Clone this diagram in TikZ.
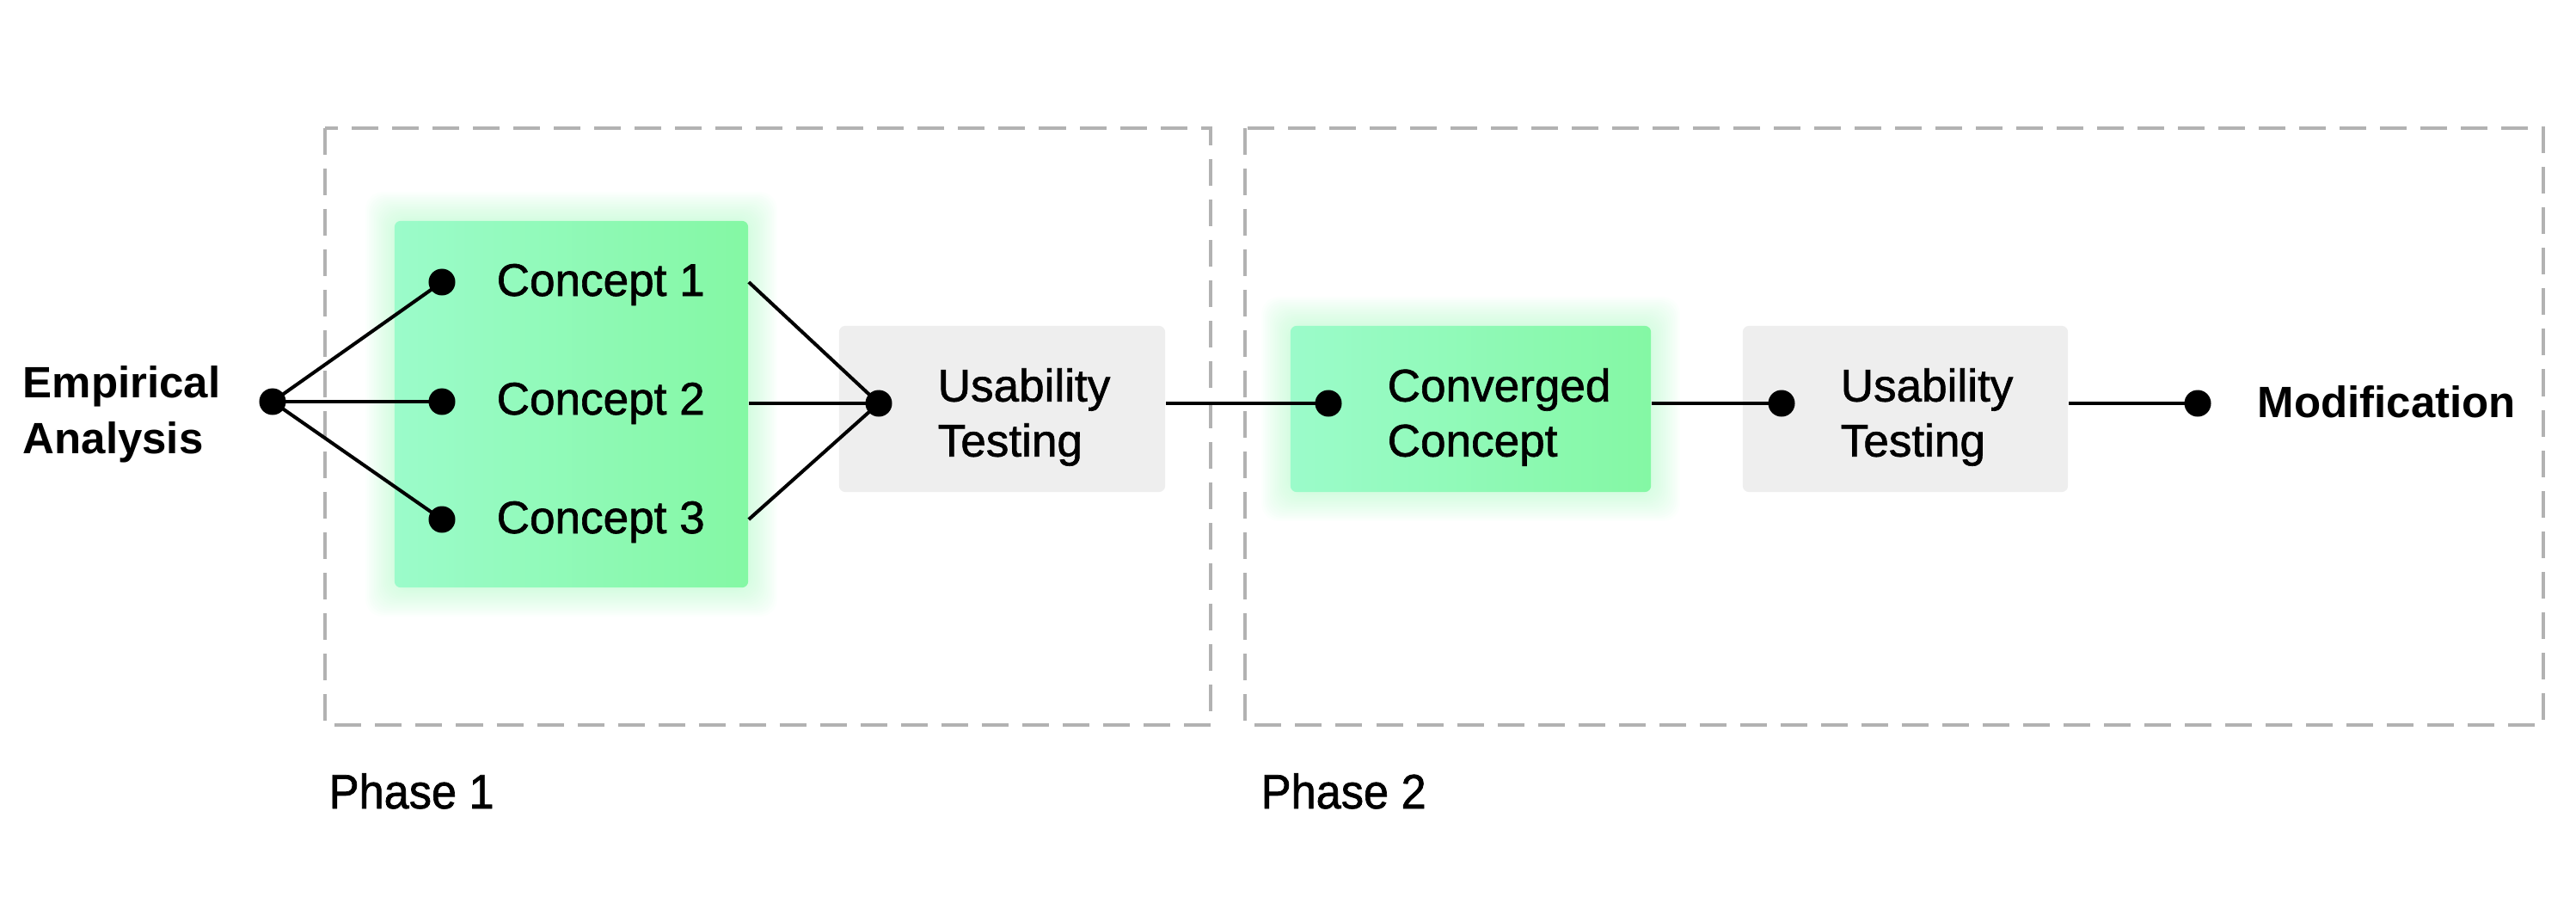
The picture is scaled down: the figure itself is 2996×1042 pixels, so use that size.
\documentclass[tikz,border=0pt]{standalone}
\usepackage{fontspec}
\setmainfont{Liberation Sans}
\newfontfamily\medfont[FakeBold=1.2]{Liberation Sans}
\newfontfamily\phasefont[FakeStretch=0.93,FakeBold=1.2]{Liberation Sans}
\usetikzlibrary{calc}
\definecolor{gleft}{RGB}{155,251,202}
\definecolor{gright}{RGB}{132,248,164}
\definecolor{glowc}{RGB}{130,247,165}
\definecolor{boxgray}{RGB}{238,238,238}
\definecolor{dashgray}{RGB}{178,178,178}
\tikzset{
  phasebox/.style={draw=dashgray, line width=0.9pt, dash pattern=on 0.31cm off 0.16cm},
  greenbox/.style={rounded corners=0.07cm, left color=gleft, right color=gright, draw=none, inner sep=0pt},
  graybox/.style={rounded corners=0.07cm, fill=boxgray, draw=none, inner sep=0pt},
  dotnode/.style={circle, fill=black, draw=none, inner sep=0pt, minimum size=0.31cm},
  conn/.style={line width=1.15pt, black},
  lbl/.style={font=\medfont\fontsize{15.1pt}{18.2pt}\selectfont, inner sep=0pt, align=left},
  blbl/.style={font=\fontsize{14.5pt}{18.5pt}\selectfont\bfseries, inner sep=0pt, align=left},
  phl/.style={font=\phasefont\fontsize{16pt}{19pt}\selectfont, inner sep=0pt},
  glowlayer/.style={fill=glowc, opacity=0.022, rounded corners=0.2cm},
}
\newcommand\glowrect[4]{%
  \foreach \g in {2,4,...,34}{%
    \fill[glowlayer] ({#1-\g},{#2-\g}) rectangle ({#3+\g},{#4+\g});%
  }%
}
\begin{document}
\begin{tikzpicture}[x=0.01cm,y=-0.01cm]
\useasboundingbox (0,0) rectangle (2996,1042);

% phase frames
\draw[phasebox] (378,149) rectangle (1408,843);
\draw[phasebox] (1448,149) rectangle (2958,843);

% glows
\glowrect{459}{257}{870}{683}
\glowrect{1501}{379}{1920}{572}

% boxes
\node[greenbox, minimum width=4.11cm, minimum height=4.26cm] (g1) at (664.5,470) {};
\node[graybox, minimum width=3.79cm, minimum height=1.93cm] (u1box) at (1165.5,475.5) {};
\node[greenbox, minimum width=4.19cm, minimum height=1.93cm] (ccbox) at (1710.5,475.5) {};
\node[graybox, minimum width=3.78cm, minimum height=1.93cm] (u2box) at (2216,475.5) {};

% dots
\node[dotnode] (e) at (317,467) {};
\node[dotnode] (c1) at (514,328) {};
\node[dotnode] (c2) at (514,467) {};
\node[dotnode] (c3) at (514,604) {};
\node[dotnode] (u1) at (1022,469) {};
\node[dotnode] (cc) at (1545,469) {};
\node[dotnode] (u2) at (2072,469) {};
\node[dotnode] (m) at (2556,469) {};

% connectors
\draw[conn] (e.center) -- (c1.center);
\draw[conn] (e.center) -- (c2.center);
\draw[conn] (e.center) -- (c3.center);
\draw[conn] (g1.east |- c1) -- (u1.center);
\draw[conn] (g1.east |- u1) -- (u1.center);
\draw[conn] (g1.east |- c3) -- (u1.center);
\draw[conn] (u1box.east |- u1) -- (cc.center);
\draw[conn] (ccbox.east |- cc) -- (u2.center);
\draw[conn] (u2box.east |- u2) -- (m.center);

% labels
\node[blbl, anchor=west] (et) at (26,482) {Empirical\\Analysis};
\node[lbl, anchor=base west] (t1) at (577,344) {Concept 1};
\node[lbl, anchor=base west] (t2) at (577,482) {Concept 2};
\node[lbl, anchor=base west] (t3) at (577,620) {Concept 3};
\node[lbl, anchor=west] (ut1) at (1090,485) {Usability\\Testing};
\node[lbl, anchor=west] (cct) at (1613,485) {Converged\\Concept};
\node[lbl, anchor=west] (ut2) at (2140,485) {Usability\\Testing};
\node[blbl, anchor=base west] (mt) at (2625,485) {Modification};
\node[phl, anchor=base west] (p1) at (382,940) {Phase 1};
\node[phl, anchor=base west] (p2) at (1466,940) {Phase 2};
\end{tikzpicture}
\end{document}
